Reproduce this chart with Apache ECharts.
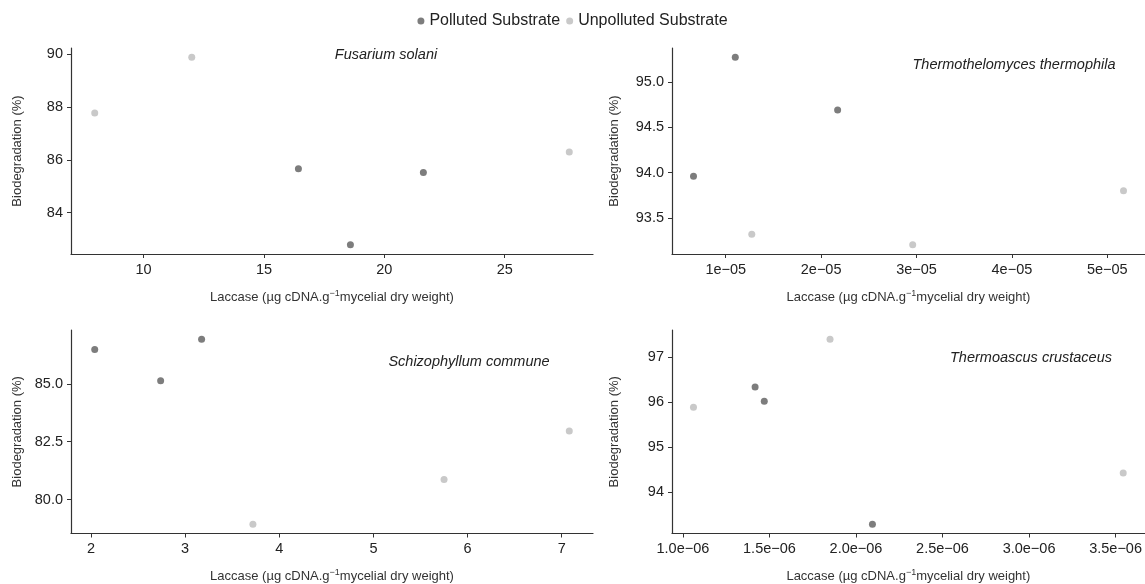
<!DOCTYPE html>
<html>
<head>
<meta charset="utf-8">
<title>Laccase vs biodegradation</title>
<script src="https://cdn.jsdelivr.net/npm/echarts@6/dist/echarts.min.js"></script>
<style>
  html, body { margin: 0; padding: 0; background: #fff; }
  #chart { width: 1145px; height: 584px; }
</style>
</head>
<body>
<div id="chart"></div>
<script>
// one panel per fungus
const species = ['Fusarium solani', 'Thermothelomyces thermophila', 'Schizophyllum commune', 'Thermoascus crustaceus'];
const groups = ['Polluted Substrate', 'Unpolluted Substrate'];

// laccase (x) / biodegradation % (y)
const fusariumPollutedX = [16.43, 18.59, 21.62];
const fusariumPollutedY = [85.66, 82.78, 85.52];
const fusariumUnpollutedX = [7.97, 12.0, 27.68];
const fusariumUnpollutedY = [87.78, 89.89, 86.30];

const thermophilaPollutedX = [0.662e-5, 1.10e-5, 2.173e-5];
const thermophilaPollutedY = [93.96, 95.27, 94.69];
const thermophilaUnpollutedX = [1.273e-5, 2.96e-5, 5.17e-5];
const thermophilaUnpollutedY = [93.32, 93.205, 93.80];

const schizoPollutedX = [2.04, 2.74, 3.175];
const schizoPollutedY = [86.49, 85.14, 86.93];
const schizoUnpollutedX = [3.72, 5.75, 7.08];
const schizoUnpollutedY = [78.93, 80.86, 82.96];

const crustaceusPollutedX = [1.417e-6, 1.470e-6, 2.095e-6];
const crustaceusPollutedY = [96.34, 96.02, 93.28];
const crustaceusUnpollutedX = [1.061e-6, 1.850e-6, 3.544e-6];
const crustaceusUnpollutedY = [95.89, 97.405, 94.42];

// tick positions and their labels
const xTicks = [
  [10, 15, 20, 25],
  [1e-5, 2e-5, 3e-5, 4e-5, 5e-5],
  [2, 3, 4, 5, 6, 7],
  [1.0e-6, 1.5e-6, 2.0e-6, 2.5e-6, 3.0e-6, 3.5e-6]
];
const xTickLabels = [
  ['10', '15', '20', '25'],
  ['1e\u221205', '2e\u221205', '3e\u221205', '4e\u221205', '5e\u221205'],
  ['2', '3', '4', '5', '6', '7'],
  ['1.0e\u221206', '1.5e\u221206', '2.0e\u221206', '2.5e\u221206', '3.0e\u221206', '3.5e\u221206']
];
const yTicks = [
  [84, 86, 88, 90],
  [93.5, 94.0, 94.5, 95.0],
  [80.0, 82.5, 85.0],
  [94, 95, 96, 97]
];
const yTickLabels = [
  ['84', '86', '88', '90'],
  ['93.5', '94.0', '94.5', '95.0'],
  ['80.0', '82.5', '85.0'],
  ['94', '95', '96', '97']
];

const panels = [
  [fusariumPollutedX, fusariumPollutedY, fusariumUnpollutedX, fusariumUnpollutedY],
  [thermophilaPollutedX, thermophilaPollutedY, thermophilaUnpollutedX, thermophilaUnpollutedY],
  [schizoPollutedX, schizoPollutedY, schizoUnpollutedX, schizoUnpollutedY],
  [crustaceusPollutedX, crustaceusPollutedY, crustaceusUnpollutedX, crustaceusUnpollutedY]
];

const FONT = '"Liberation Sans", Arial, Helvetica, sans-serif';
const colors = ['#7d7d7d', '#c9c9c9'];
const grids = [
  { left: 71, top: 48, width: 522, height: 206 },
  { left: 672, top: 48, width: 473, height: 206 },
  { left: 71, top: 330, width: 522, height: 206 },
  { left: 672, top: 330, width: 473, height: 206 }
];
const titlePos = [[386, 47], [1014, 57], [469, 354], [1031, 350]];
const yNameGap = [47, 51, 47, 51];

// ggplot style 5% expansion of the data range
function expand(a, b) {
  const all = a.concat(b);
  const lo = Math.min(...all), hi = Math.max(...all);
  const pad = (hi - lo) * 0.05;
  return [lo - pad, hi + pad];
}

function lookup(ticks, labels) {
  return v => {
    let best = 0;
    ticks.forEach((t, i) => {
      if (Math.abs(t - v) < Math.abs(ticks[best] - v)) best = i;
    });
    return labels[best];
  };
}

const axisCommon = {
  axisLine: { lineStyle: { color: '#333', width: 1.2 } },
  axisTick: { length: 4, lineStyle: { color: '#333', width: 1 } },
  splitLine: { show: false },
  nameLocation: 'middle',
  nameTextStyle: { fontFamily: FONT, fontSize: 13, color: '#333' }
};

const xAxes = panels.map((p, i) => {
  const [lo, hi] = expand(p[0], p[2]);
  return Object.assign({}, axisCommon, {
    type: 'value', gridIndex: i, min: lo, max: hi,
    name: 'Laccase (\u00b5g cDNA.g{sup|\u22121}mycelial dry weight)',
    nameGap: 35,
    nameTextStyle: Object.assign({}, axisCommon.nameTextStyle, {
      rich: { sup: { fontFamily: FONT, fontSize: 9, color: '#333', padding: [0, 0, 7, 0] } }
    }),
    axisTick: Object.assign({}, axisCommon.axisTick, { customValues: xTicks[i] }),
    axisLabel: {
      customValues: xTicks[i], margin: 8,
      fontFamily: FONT, fontSize: 14.5, color: '#222',
      formatter: lookup(xTicks[i], xTickLabels[i])
    }
  });
});

const yAxes = panels.map((p, i) => {
  const [lo, hi] = expand(p[1], p[3]);
  return Object.assign({}, axisCommon, {
    type: 'value', gridIndex: i, min: lo, max: hi,
    name: 'Biodegradation (%)',
    nameGap: yNameGap[i],
    axisTick: Object.assign({}, axisCommon.axisTick, { customValues: yTicks[i] }),
    axisLabel: {
      customValues: yTicks[i], margin: 8,
      fontFamily: FONT, fontSize: 14.5, color: '#222',
      formatter: lookup(yTicks[i], yTickLabels[i])
    }
  });
});

const series = [];
panels.forEach((p, i) => {
  groups.forEach((g, k) => {
    const xs = p[k * 2], ys = p[k * 2 + 1];
    series.push({
      type: 'scatter',
      name: g,
      xAxisIndex: i,
      yAxisIndex: i,
      symbolSize: 7,
      itemStyle: { color: colors[k], opacity: 1 },
      emphasis: { disabled: true },
      data: xs.map((x, j) => [x, ys[j]])
    });
  });
});

const chart = echarts.init(document.getElementById('chart'));
chart.setOption({
  animation: false,
  backgroundColor: '#fff',
  color: colors,
  legend: {
    data: groups,
    top: 13,
    left: 'center',
    padding: 0,
    icon: 'circle',
    itemWidth: 7,
    itemHeight: 7,
    itemGap: 6,
    textStyle: { fontFamily: FONT, fontSize: 16, color: '#222' }
  },
  title: species.map((s, i) => ({
    text: s,
    left: titlePos[i][0],
    top: titlePos[i][1],
    textAlign: 'center',
    padding: 0,
    textStyle: { fontFamily: FONT, fontSize: 14.5, fontStyle: 'italic', fontWeight: 'normal', color: '#222' }
  })),
  grid: grids,
  xAxis: xAxes,
  yAxis: yAxes,
  series: series
});
</script>
</body>
</html>
